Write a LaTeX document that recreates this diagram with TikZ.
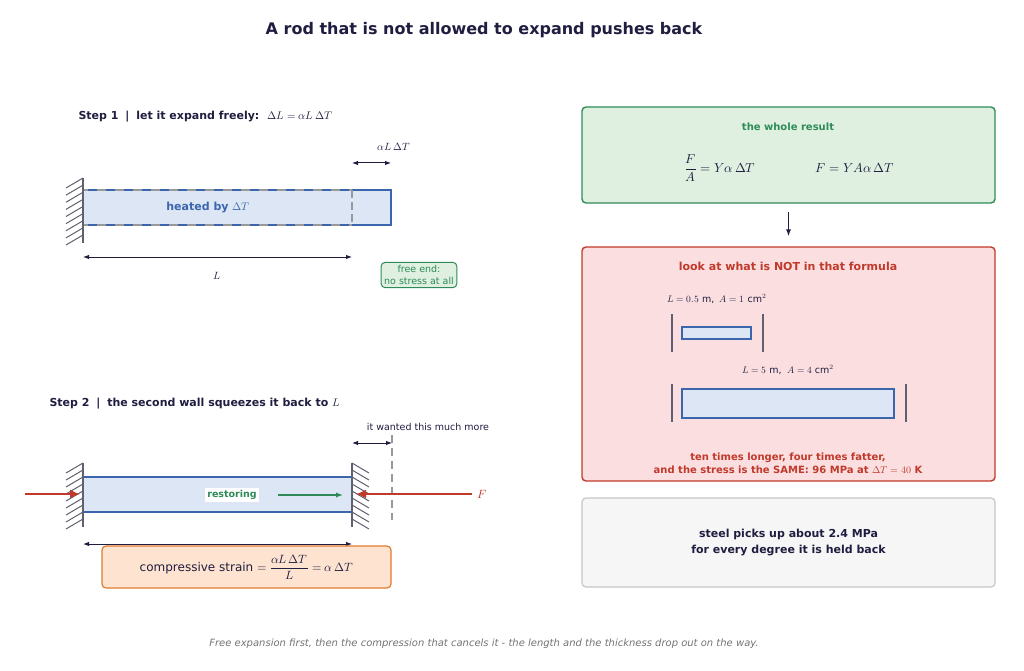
\documentclass[tikz,border=0pt]{standalone}
\usepackage{fontspec}
\setmainfont{DejaVu Sans}
\usepackage{unicode-math}
\setmathfont{Latin Modern Math}
\usetikzlibrary{arrows.meta,positioning}
\definecolor{navy}{HTML}{1F1D40}
\definecolor{rodblue}{HTML}{3B66AD}
\definecolor{rodfill}{HTML}{DCE6F4}
\definecolor{grn}{HTML}{2E8B57}
\definecolor{grnfill}{HTML}{DFF0E1}
\definecolor{redd}{HTML}{C0392B}
\definecolor{redfill}{HTML}{FBDFE0}
\definecolor{orng}{HTML}{E07B2F}
\definecolor{orngfill}{HTML}{FDE3D0}
\definecolor{wallgray}{HTML}{5F6070}
\tikzset{
  txt/.style={text=navy,font=\fontsize{10.5}{13}\selectfont},
  steplabel/.style={text=navy,font=\bfseries\fontsize{11}{13}\selectfont,anchor=west},
  box/.style={draw,rounded corners=4pt,line width=1.4pt},
  rod/.style={draw=rodblue,fill=rodfill,line width=1.5pt},
  dim/.style={{Latex[length=6pt]}-{Latex[length=6pt]},navy,line width=1pt},
  wall/.style={wallgray,line width=2pt},
  hatch/.style={wallgray,line width=1pt},
}
\newcommand{\wallL}[3]{% x, ytop, ybottom : hatches to the left
  \draw[wall] (#1,#2) -- (#1,#3);
  \foreach \k in {0,...,8} \draw[hatch] (#1,{#2+(#3-#2-8)*\k/8}) -- ++(-17,10);}
\newcommand{\wallR}[3]{% hatches to the right
  \draw[wall] (#1,#2) -- (#1,#3);
  \foreach \k in {0,...,8} \draw[hatch] (#1,{#2+(#3-#2-8)*\k/8}) -- ++(17,10);}
\begin{document}
\begin{tikzpicture}[x=1pt,y=-1pt]
\useasboundingbox (0,0) rectangle (1024,671);
\node[text=navy,font=\bfseries\fontsize{16}{19}\selectfont] (title) at (484,30) {A rod that is not allowed to expand pushes back};

% step 1
\node[steplabel] (step1) at (75,117) {Step 1 \;|\; let it expand freely: \;$\Delta L = \alpha L\,\Delta T$};
\draw[rod] (83,190) rectangle (391,225);
\draw[gray!80,line width=1.5pt,dash pattern=on 9pt off 9pt,dash phase=4pt] (83,190) -- (352,190) (83,225) -- (352,225);
\draw[gray!80,line width=1.3pt,dash pattern=on 8pt off 4pt] (352,190) -- (352,225);
\wallL{83}{178}{243}
\node[text=rodblue,font=\bfseries\fontsize{11}{13}\selectfont] (heated) at (208,208) {heated by $\Delta T$};
\coordinate (e1a) at (352,163); \coordinate (e1b) at (391,163);
\draw[dim] (e1a) -- (e1b);
\node[txt] (dl1) at (394,147) {$\alpha L\,\Delta T$};
\coordinate (l1a) at (83,257); \coordinate (l1b) at (352,257);
\draw[dim] (l1a) -- (l1b);
\node[txt] (l1) at (217,276) {$L$};
\node[box,line width=1pt,draw=grn,fill=grnfill,text=grn,align=center,font=\fontsize{9.5}{12}\selectfont,inner sep=3pt] (free) at (419,275) {free end:\\no stress at all};

% step 2
\node[steplabel] (step2) at (46,404) {Step 2 \;|\; the second wall squeezes it back to $L$};
\draw[rod] (83,477) rectangle (352,512);
\wallL{83}{463}{527}
\wallR{352}{463}{527}
\draw[gray!80,line width=1.3pt,dash pattern=on 8pt off 5pt] (392,435) -- (392,520);
\coordinate (e2a) at (352,443); \coordinate (e2b) at (392,443);
\draw[dim] (e2a) -- (e2b);
\node[txt,font=\fontsize{9.5}{12}\selectfont] (wanted) at (428,427) {it wanted this much more};
\coordinate (fl) at (25,494); \coordinate (flh) at (80,494);
\draw[redd,line width=2pt,-{Latex[length=10pt,width=9pt]}] (fl) -- (flh);
\coordinate (fr) at (472,494); \coordinate (frh) at (356,494);
\draw[redd,line width=2pt,-{Latex[length=10pt,width=9pt]}] (fr) -- (frh);
\node[text=redd,font=\fontsize{12}{14}\selectfont,anchor=west] (F) at (474,494) {$F$};
\node[fill=white,text=grn,font=\bfseries\fontsize{9.5}{12}\selectfont,inner sep=2pt] (rest) at (232,495) {restoring};
\coordinate (ra) at (278,495); \coordinate (rb) at (343,495);
\draw[grn,line width=1.6pt,-{Latex[length=7pt]}] (ra) -- (rb);
\coordinate (l2a) at (83,544); \coordinate (l2b) at (352,544);
\draw[dim] (l2a) -- (l2b);
\node[box,line width=1.2pt,draw=orng,fill=orngfill,minimum width=289pt,minimum height=42pt,text=navy,font=\fontsize{12}{14}\selectfont] (strain) at (246.5,567) {compressive strain $= \dfrac{\alpha L\,\Delta T}{L} = \alpha\,\Delta T$};

% right column
\node[box,draw=grn,fill=grnfill,minimum width=413pt,minimum height=96pt] (whole) at (788.5,155) {};
\node[text=grn,font=\bfseries\fontsize{10}{12}\selectfont] (wholet) at (788,127) {the whole result};
\node[text=navy,font=\fontsize{13}{15}\selectfont] (f1) at (720,168) {$\dfrac{F}{A} = Y\alpha\,\Delta T$};
\node[text=navy,font=\fontsize{13}{15}\selectfont] (f2) at (855,168) {$F = YA\alpha\,\Delta T$};
\node[box,draw=redd,fill=redfill,minimum width=413pt,minimum height=234pt] (notbox) at (788.5,364) {};
\draw[navy,line width=1.8pt,-{Latex[length=7pt]}] ([yshift=-8pt]whole.south) -- ([yshift=10pt]notbox.north);
\node[text=redd,font=\bfseries\fontsize{11}{13}\selectfont] (nott) at (788,266) {look at what is NOT in that formula};
\node[txt,font=\fontsize{9.5}{12}\selectfont] (s1) at (717,299) {$L = 0.5$ m, \;$A = 1$ cm$^2$};
\draw[wall] (672,314) -- (672,352) (763,314) -- (763,352);
\draw[rod,line width=1.3pt] (682,327) rectangle (751,339);
\node[txt,font=\fontsize{9.5}{12}\selectfont] (s2) at (788,370) {$L = 5$ m, \;$A = 4$ cm$^2$};
\draw[wall] (672,384) -- (672,422) (906,384) -- (906,422);
\draw[rod,line width=1.3pt] (682,389) rectangle (894,418);
\node[text=redd,font=\bfseries\fontsize{10}{13}\selectfont,align=center] (ten) at (788,463) {ten times longer, four times fatter,\\and the stress is the SAME: 96 MPa at $\Delta T = 40$ K};
\node[box,line width=1.2pt,draw=gray!45,fill=gray!7,minimum width=413pt,minimum height=89pt,text=navy,font=\bfseries\fontsize{11}{16}\selectfont,align=center] (steel) at (788.5,542.5) {steel picks up about 2.4 MPa\\for every degree it is held back};

\node[text=gray!90!black,font=\itshape\fontsize{10}{12}\selectfont] (foot) at (484,644) {Free expansion first, then the compression that cancels it - the length and the thickness drop out on the way.};
\end{tikzpicture}
\end{document}
